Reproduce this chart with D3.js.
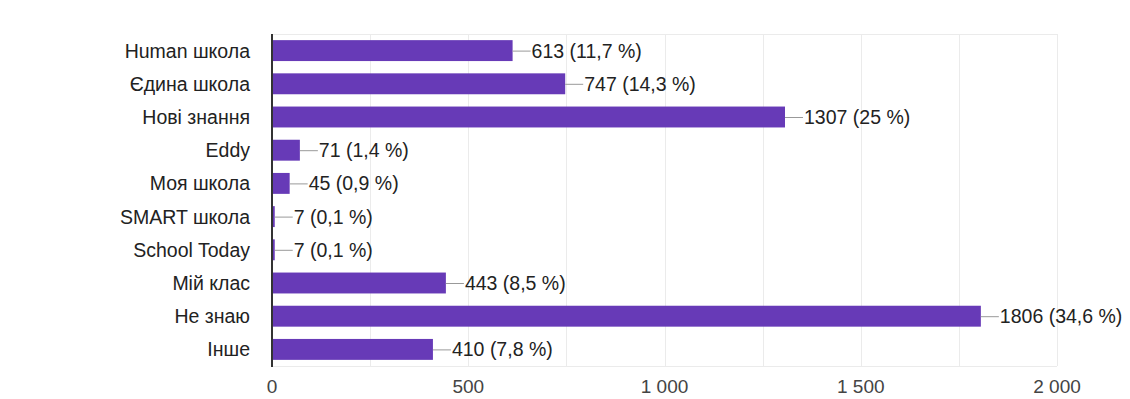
<!DOCTYPE html>
<html lang="uk">
<head>
<meta charset="UTF-8">
<title></title>
<style>
  body { margin:0; background:#fff; }
  svg text { font-family: "Liberation Sans", Arial, sans-serif; }
</style>
</head>
<body>
<script src="https://d3js.org/d3.v7.min.js"></script>
<script>
  var categories = ['Human школа', 'Єдина школа', 'Нові знання', 'Eddy', 'Моя школа',
                    'SMART школа', 'School Today', 'Мій клас', 'Не знаю', 'Інше'];
  var counts = [613, 747, 1307, 71, 45, 7, 7, 443, 1806, 410];
  var percents = ['11,7', '14,3', '25', '1,4', '0,9', '0,1', '0,1', '8,5', '34,6', '7,8'];
  var ticks = [0, 500, 1000, 1500, 2000];
  var tickLabels = ['0', '500', '1 000', '1 500', '2 000'];
  var gridValues = d3.range(0, 2001, 250);

  var width = 1130, height = 399,
      plotLeft = 272, plotRight = 1057, plotTop = 34, plotBottom = 366;

  var svg = d3.select('body').append('svg')
      .attr('width', width)
      .attr('height', height);

  var x = d3.scaleLinear().domain([0, 2000]).range([plotLeft, plotRight]);
  var y = d3.scaleBand().domain(categories).range([plotTop, plotBottom])
            .paddingInner(0.37).paddingOuter(0.185);

  // grid
  svg.append('g').selectAll('line')
     .data(gridValues)
     .enter().append('line')
     .attr('x1', function(d){ return Math.round(x(d)) + 0.5; })
     .attr('x2', function(d){ return Math.round(x(d)) + 0.5; })
     .attr('y1', plotTop).attr('y2', plotBottom)
     .attr('stroke', '#ebebeb').attr('stroke-width', 1);

  svg.append('line')
     .attr('x1', plotLeft).attr('x2', plotRight)
     .attr('y1', plotTop + 0.5).attr('y2', plotTop + 0.5)
     .attr('stroke', '#ebebeb');
  svg.append('line')
     .attr('x1', plotLeft).attr('x2', plotRight)
     .attr('y1', plotBottom + 0.5).attr('y2', plotBottom + 0.5)
     .attr('stroke', '#ebebeb');

  // bars
  svg.append('g').selectAll('rect')
     .data(counts)
     .enter().append('rect')
     .attr('x', x(0))
     .attr('y', function(d, i){ return y(categories[i]); })
     .attr('width', function(d){ return x(d) - x(0); })
     .attr('height', y.bandwidth())
     .attr('fill', '#673ab7');

  // leader lines + value labels
  var lab = svg.append('g').selectAll('g')
     .data(counts)
     .enter().append('g')
     .attr('transform', function(d, i){
        return 'translate(' + x(d) + ',' + (y(categories[i]) + y.bandwidth() / 2) + ')';
     });
  lab.append('line')
     .attr('x1', 0).attr('x2', 18)
     .attr('y1', 0.5).attr('y2', 0.5)
     .attr('stroke', '#999').attr('stroke-width', 1);
  lab.append('text')
     .attr('x', 19)
     .attr('dy', '0.36em')
     .attr('font-size', 19.5)
     .attr('fill', '#222')
     .text(function(d, i){ return d + ' (' + percents[i] + ' %)'; });

  // category labels
  svg.append('g').selectAll('text')
     .data(categories)
     .enter().append('text')
     .attr('x', 250)
     .attr('y', function(d){ return y(d) + y.bandwidth() / 2; })
     .attr('dy', '0.36em')
     .attr('text-anchor', 'end')
     .attr('font-size', 19.5)
     .attr('fill', '#222')
     .text(function(d){ return d; });

  // x tick labels
  svg.append('g').selectAll('text')
     .data(ticks)
     .enter().append('text')
     .attr('x', function(d){ return x(d); })
     .attr('y', 393)
     .attr('text-anchor', 'middle')
     .attr('font-size', 19)
     .attr('fill', '#444')
     .text(function(d, i){ return tickLabels[i]; });

  // y axis line
  svg.append('line')
     .attr('x1', plotLeft).attr('x2', plotLeft)
     .attr('y1', plotTop).attr('y2', plotBottom + 1)
     .attr('stroke', '#333').attr('stroke-width', 2);
</script>
</body>
</html>
